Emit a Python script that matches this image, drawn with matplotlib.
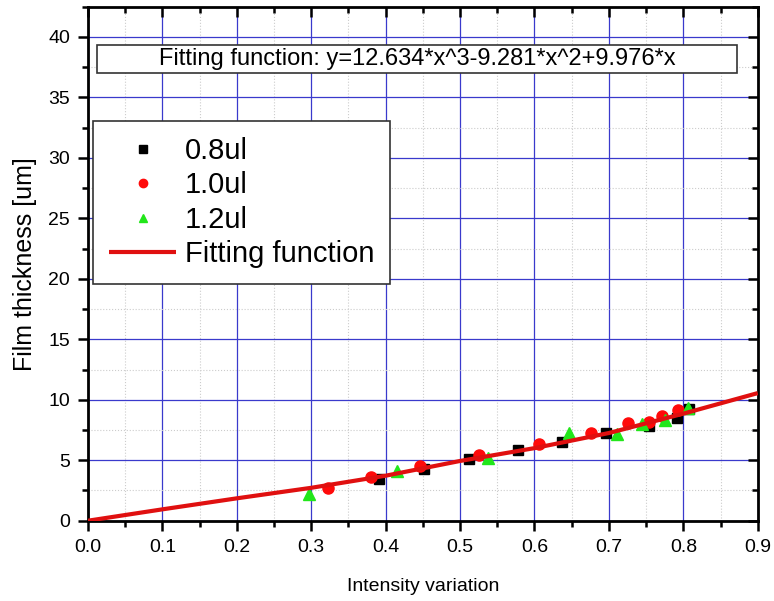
import numpy as np
import matplotlib
matplotlib.use("Agg")
import matplotlib.pyplot as plt
from matplotlib.ticker import MultipleLocator, FormatStrFormatter
from matplotlib.patches import Rectangle
import matplotlib.lines as mlines

plt.rcParams['font.family'] = ['Liberation Sans', 'DejaVu Sans']

# Data
x_08 = [0.391, 0.452, 0.5125, 0.578, 0.637, 0.696, 0.754, 0.791, 0.807]
y_08 = [3.45, 4.28, 5.11, 5.87, 6.54, 7.24, 7.87, 8.48, 9.25]

x_10 = [0.322, 0.380, 0.446, 0.525, 0.606, 0.676, 0.725, 0.754, 0.772, 0.793]
y_10 = [2.68, 3.64, 4.56, 5.44, 6.35, 7.26, 8.06, 8.15, 8.62, 9.17]

x_12 = [0.2975, 0.415, 0.538, 0.646, 0.711, 0.744, 0.776, 0.806]
y_12 = [2.21, 4.09, 5.19, 7.24, 7.18, 8.01, 8.34, 9.34]

# fitted curve as drawn in the picture
x_fit = [0.0, 0.1, 0.2, 0.3, 0.4, 0.5, 0.6, 0.7, 0.8, 0.9]
y_fit = [0.0, 0.94, 1.85, 2.72, 3.72, 4.94, 6.0, 7.25, 8.85, 10.55]

fit_text = "Fitting function: y=12.634*x^3-9.281*x^2+9.976*x"
labels = ["0.8ul", "1.0ul", "1.2ul", "Fitting function"]

fig = plt.figure(figsize=(7.74, 6.01), dpi=100)
ax = fig.add_axes([0.1137, 0.1336, 0.979 - 0.1137, 0.989 - 0.1336])

green = '#22e61a'
ax.plot(x_08, y_08, 's', color='black', ms=7, label=labels[0], zorder=3)
ax.plot(x_10, y_10, 'o', color='#ff0a0a', ms=8, label=labels[1], zorder=3)
ax.plot(x_12, y_12, '^', color=green, ms=8.5, label=labels[2], zorder=3)
ax.plot(x_fit, y_fit, '-', color='#e01010', lw=3, label=labels[3], zorder=4,
        solid_capstyle='butt')

ax.set_xlim(0, 0.9)
ax.set_ylim(0, 42.5)
ax.xaxis.set_major_locator(MultipleLocator(0.1))
ax.xaxis.set_minor_locator(MultipleLocator(0.05))
ax.yaxis.set_major_locator(MultipleLocator(5))
ax.yaxis.set_minor_locator(MultipleLocator(2.5))
ax.xaxis.set_major_formatter(FormatStrFormatter('%.1f'))

ax.grid(which='major', color='#3a3acc', lw=0.9)
ax.grid(which='minor', color='#cccccc', lw=0.8, ls=':')
ax.set_axisbelow(True)

for sp in ax.spines.values():
    sp.set_linewidth(2)

ax.tick_params(which='major', direction='out', length=7, width=1.8, labelsize=14,
               colors='black', pad=6)
ax.tick_params(which='minor', direction='out', length=4, width=1.8)
ax.tick_params(which='both', top=True, right=True)
for t in ax.xaxis.get_major_ticks() + ax.xaxis.get_minor_ticks():
    t.tick2line.set_marker(mlines.TICKDOWN)
for t in ax.yaxis.get_major_ticks() + ax.yaxis.get_minor_ticks():
    t.tick2line.set_marker(mlines.TICKLEFT)

ax.set_xlabel("Intensity variation", fontsize=14, labelpad=16)
ax.set_ylabel("Film thickness [um]", fontsize=18, labelpad=8)

# formula box
ax.add_patch(Rectangle((0.0134, 0.871), 0.969 - 0.0134, 0.9255 - 0.871,
                       transform=ax.transAxes, fc='white', ec='#333333', lw=1.2,
                       zorder=5))
ax.text(0.491, 0.898, fit_text, transform=ax.transAxes, ha='center', va='center',
        fontsize=17, zorder=6)

leg = ax.legend(loc='upper left', bbox_to_anchor=(0.0075, 0.7776), fontsize=21,
                frameon=True, fancybox=False, edgecolor='#333333', framealpha=1,
                handlelength=2.3, borderpad=0.55, labelspacing=0.22,
                handletextpad=0.3, markerscale=0.75, borderaxespad=0)
leg.get_frame().set_linewidth(1.2)
leg.set_zorder(7)

fig.savefig("out.png", dpi=100)
